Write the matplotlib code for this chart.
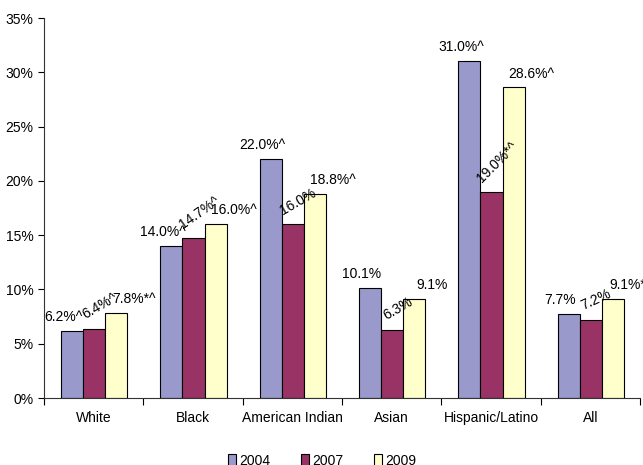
import numpy as np
import matplotlib.pyplot as plt
from matplotlib.patches import Patch
from matplotlib.ticker import FuncFormatter, FixedLocator

plt.rcParams["font.family"] = ["Liberation Sans", "DejaVu Sans"]

# Datos
categories = ["White", "Black", "American Indian", "Asian", "Hispanic/Latino", "All"]
years = ["2004", "2007", "2009"]
vals_2004 = [6.2, 14.0, 22.0, 10.1, 31.0, 7.7]
vals_2007 = [6.4, 14.7, 16.0, 6.3, 19.0, 7.2]
vals_2009 = [7.8, 16.0, 18.8, 9.1, 28.6, 9.1]
labels_2004 = ["6.2%^", "14.0%^", "22.0%^", "10.1%", "31.0%^", "7.7%"]
labels_2007 = ["6.4%^", "14.7%^", "16.0%", "6.3%", "19.0%*^", "7.2%"]
labels_2009 = ["7.8%*^", "16.0%^", "18.8%^", "9.1%", "28.6%^", "9.1%*^"]
rot_2007 = [30, 35, 30, 30, 45, 25]

colors = ["#9999CC", "#993366", "#FFFFCC"]

fig = plt.figure(figsize=(6.43, 4.65), dpi=100)
ax = fig.add_axes([44 / 643, 1 - 398 / 465, 596 / 643, 380 / 465])

x = np.arange(len(categories))
w = 0.222
series = [
    (vals_2004, labels_2004, -w),
    (vals_2007, labels_2007, 0.0),
    (vals_2009, labels_2009, w),
]

for i, (vals, labs, off) in enumerate(series):
    bars = ax.bar(x + off + 0.005, vals, width=w, color=colors[i],
                  edgecolor="black", linewidth=0.8, zorder=2)
    for j, (b, lab) in enumerate(zip(bars, labs)):
        cx = b.get_x() + b.get_width() / 2
        top = b.get_height()
        if i == 0:
            ax.annotate(lab, (cx, top), xytext=(-6, 5), textcoords="offset points",
                        ha="center", va="bottom", fontsize=10)
        elif i == 1:
            ax.annotate(lab, (cx, top), xytext=(4, 5), textcoords="offset points",
                        ha="center", va="bottom", fontsize=10, rotation=rot_2007[j])
        else:
            ax.annotate(lab, (cx, top), xytext=(13, 5), textcoords="offset points",
                        ha="center", va="bottom", fontsize=10, annotation_clip=False)

ax.set_xlim(-0.5, 5.5)
ax.set_ylim(0, 35)
ax.yaxis.set_major_locator(FixedLocator(np.arange(0, 36, 5)))
ax.yaxis.set_major_formatter(FuncFormatter(lambda v, p: f"{v:.0f}%"))

ax.xaxis.set_major_locator(FixedLocator(np.arange(-0.5, 6, 1)))
ax.xaxis.set_major_formatter(FuncFormatter(lambda v, p: ""))
ax.set_xticks(x, minor=True)
ax.set_xticklabels(categories, minor=True)
ax.tick_params(axis="x", which="minor", length=0, pad=9, labelsize=10)
ax.tick_params(axis="x", which="major", length=5, direction="out", width=0.8)
ax.tick_params(axis="y", length=4, direction="out", labelsize=10, width=0.8)

for s in ["top", "right"]:
    ax.spines[s].set_visible(False)
for s in ["left", "bottom"]:
    ax.spines[s].set_color("#333333")
    ax.spines[s].set_linewidth(0.8)

handles = [Patch(facecolor=c, edgecolor="black", linewidth=0.8) for c in colors]
fig.legend(handles, years, loc="center", bbox_to_anchor=(322 / 643, 1 - 461 / 465),
           ncol=3, frameon=False, fontsize=10, handlelength=0.6, handleheight=0.9,
           handletextpad=0.2, columnspacing=2.2)

fig.savefig("out.png", dpi=100)
